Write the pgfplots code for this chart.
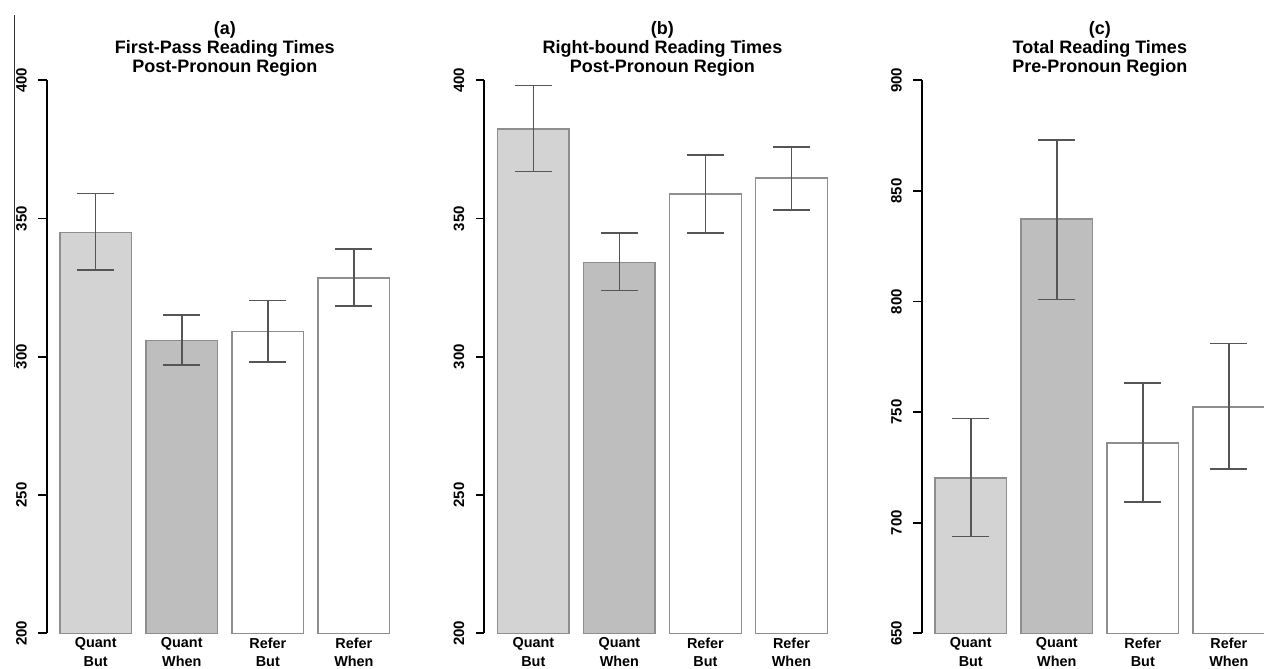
\documentclass[border=0pt]{standalone}
\usepackage{fontspec}
\setmainfont{Liberation Sans}
\usepackage{pgfplots}
\pgfplotsset{compat=1.18}
\definecolor{lgray}{HTML}{D3D3D3}
\definecolor{mgray}{HTML}{BEBEBE}
\definecolor{outl}{HTML}{8E8E8E}
\definecolor{errc}{HTML}{555555}
\pgfplotsset{
  rpanel/.style={
    scale only axis, width=356.2pt, height=553pt,
    xmin=0.016, xmax=4.984,
    anchor=south west,
    clip=true,
    axis x line=none,
    axis y line*=left,
    y axis line style={-, line width=1.8pt, black},
    ytick style={line width=1.8pt, black},
    tick align=outside,
    major tick length=8.5pt,
    /pgf/number format/assume math mode=true,
    yticklabel style={rotate=90, anchor=south, inner sep=0pt, font=\fontsize{15}{17}\selectfont\bfseries, yshift=11.3pt},
    title style={align=center, font=\fontsize{18}{19.1}\selectfont\bfseries, inner sep=0pt, anchor=south, at={(0.5,1)}, yshift=-2.7pt},
    bar width=1, 
  },
  b1/.style={ybar, bar shift=0pt, fill=lgray, draw=outl, line width=1.5pt},
  b2/.style={ybar, bar shift=0pt, fill=mgray, draw=outl, line width=1.5pt},
  b3/.style={ybar, bar shift=0pt, fill=white, draw=outl, line width=1.5pt},
  eb/.style={draw=none, mark=none, forget plot,
    error bars/.cd, y dir=both, y explicit,
    error bar style={draw=errc, line width=1.5pt},
    error mark=|,
    error mark options={draw=errc, line width=1.5pt, mark size=18.5pt}},
}
\begin{document}
\begin{tikzpicture}
\path[use as bounding box] (0,0) rectangle (1264pt,669pt);
\draw[line width=0.8pt, black!80] (14pt,654pt) -- (14pt,302pt);
% (a)
\begin{axis}[rpanel, at={(46.7pt,35.7pt)}, ymin=200, ymax=400, ytick={200,250,...,400},
  title={(a)\\First-Pass Reading Times\\Post-Pronoun Region}]
\addplot[b1] coordinates {(0.7,345.0)};
\addplot[b2] coordinates {(1.9,305.9)};
\addplot[b3] coordinates {(3.1,309.2)};
\addplot[b3] coordinates {(4.3,328.5)};
\addplot[eb] coordinates {
  (0.7,345.0) += (0,14.1) -= (0,13.7)
  (1.9,305.9) += (0,9.2) -= (0,8.8)
  (3.1,309.2) += (0,11.2) -= (0,11.1)
  (4.3,328.5) += (0,10.4) -= (0,10.2)
};
\end{axis}
% (b)
\begin{axis}[rpanel, at={(484.3pt,35.7pt)}, ymin=200, ymax=400, ytick={200,250,...,400},
  title={(b)\\Right-bound Reading Times\\Post-Pronoun Region}]
\addplot[b1] coordinates {(0.7,382.3)};
\addplot[b2] coordinates {(1.9,334.1)};
\addplot[b3] coordinates {(3.1,358.8)};
\addplot[b3] coordinates {(4.3,364.7)};
\addplot[eb] coordinates {
  (0.7,382.3) += (0,15.8) -= (0,15.3)
  (1.9,334.1) += (0,10.6) -= (0,10.2)
  (3.1,358.8) += (0,14.2) -= (0,14.1)
  (4.3,364.7) += (0,11.2) -= (0,11.7)
};
\end{axis}
% (c)
\begin{axis}[rpanel, at={(921.7pt,35.7pt)}, ymin=650, ymax=900, ytick={650,700,...,900},
  title={(c)\\Total Reading Times\\Pre-Pronoun Region}]
\addplot[b1] coordinates {(0.7,720.3)};
\addplot[b2] coordinates {(1.9,837.2)};
\addplot[b3] coordinates {(3.1,736.0)};
\addplot[b3] coordinates {(4.3,752.2)};
\addplot[eb] coordinates {
  (0.7,720.3) += (0,26.9) -= (0,26.6)
  (1.9,837.2) += (0,35.8) -= (0,36.2)
  (3.1,736.0) += (0,27.2) -= (0,26.7)
  (4.3,752.2) += (0,28.7) -= (0,28.0)
};
\end{axis}
% category labels
\foreach \off in {46.7,484.3,921.7}{
  \foreach \c/\lab in {0.7/{Quant\\But},1.9/{Quant\\When},3.1/{Refer\\But},4.3/{Refer\\When}}{
    \node[align=center, anchor=north, inner sep=0pt, font=\fontsize{14.4}{18.3}\selectfont\bfseries]
      at ({\off pt+(\c-0.016)*71.7pt}, 31.5pt) {\lab};
  }
}
\end{tikzpicture}
\end{document}
